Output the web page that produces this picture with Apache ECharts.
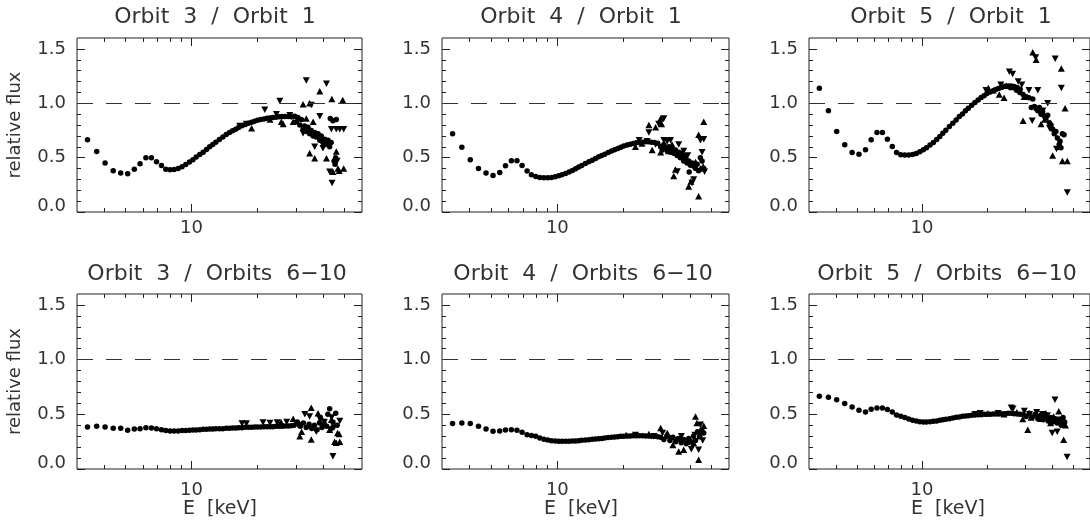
<!DOCTYPE html>
<html><head><meta charset="utf-8">
<script src="https://cdn.jsdelivr.net/npm/echarts@6/dist/echarts.min.js"></script>
<style>html,body{margin:0;padding:0;background:#fff;}#c{width:1090px;height:529px;}</style>
</head><body><div id="c"></div>
<script>
// ---- data ----
const titles = [
  'Orbit  3  /  Orbit  1', 'Orbit  4  /  Orbit  1', 'Orbit  5  /  Orbit  1',
  'Orbit  3  /  Orbits  6\u221210', 'Orbit  4  /  Orbits  6\u221210', 'Orbit  5  /  Orbits  6\u221210'
];
const yAxisName = 'relative flux';
const xAxisName = 'E  [keV]';
const xTickLabels = [10];
const xMinorTicks = [4,5,6,7,8,9,20,30,40,50];
const yTickLabels = [0, 0.5, 1.0, 1.5];
const yMinorTicks = [0.1,0.2,0.3,0.4,0.6,0.7,0.8,0.9,1.1,1.2,1.3,1.4];
const refLevel = 1.0;

// shared energy channels (keV) of the dense low-energy data
const energyGrid = [3.35,3.69,4.03,4.39,4.75,5.11,5.48,5.82,6.19,6.56,6.92,7.29,7.63,7.98,
  8.33,8.69,9.05,9.41,9.78,10.15,10.5,10.9,11.3,11.7,12.1,12.5,12.9,13.4,13.9,14.4,14.9,15.4,15.9,16.4,
  17.0,17.6,18.2,18.8,19.4,20.0,20.7,21.4,22.1,22.8,23.5,24.3,25.1,25.9,26.7,27.6,28.5];

const p1Line = [0.664,0.557,0.45,0.379,0.358,0.352,0.394,0.443,0.498,0.498,0.462,0.428,0.394,0.388,
  0.39,0.40,0.416,0.437,0.459,0.48,0.505,0.529,0.55,0.575,0.60,0.62,0.642,0.667,0.69,0.712,0.73,0.746,0.761,0.777,
  0.792,0.804,0.817,0.826,0.835,0.844,0.85,0.856,0.862,0.865,0.868,0.872,0.875,0.878,0.878,0.878,0.875];
const p2Line = [0.719,0.596,0.48,0.40,0.358,0.336,0.364,0.425,0.471,0.471,0.428,0.376,0.343,0.327,
  0.318,0.315,0.315,0.318,0.324,0.333,0.343,0.355,0.367,0.382,0.398,0.413,0.428,0.446,0.462,0.477,0.492,0.508,0.52,0.532,
  0.547,0.56,0.572,0.584,0.596,0.606,0.615,0.624,0.63,0.636,0.639,0.642,0.645,0.645,0.642,0.639,0.633];
const p3Line = [1.138,0.93,0.74,0.618,0.547,0.532,0.572,0.664,0.731,0.731,0.67,0.602,0.547,0.526,
  0.523,0.523,0.529,0.538,0.554,0.572,0.59,0.615,0.639,0.667,0.694,0.725,0.752,0.786,0.817,0.847,0.878,0.902,0.93,0.954,
  0.982,1.006,1.031,1.052,1.07,1.089,1.104,1.116,1.128,1.138,1.147,1.156,1.159,1.159,1.153,1.144,1.128];
const p4Line = [0.384,0.39,0.384,0.372,0.372,0.354,0.366,0.369,0.378,0.375,0.369,0.36,0.351,0.348,
  0.348,0.348,0.351,0.351,0.354,0.357,0.357,0.36,0.363,0.363,0.366,0.366,0.369,0.369,0.369,0.372,0.372,0.375,0.375,0.378,
  0.378,0.381,0.381,0.381,0.384,0.384,0.384,0.387,0.387,0.387,0.387,0.39,0.39,0.39,0.393,0.393,0.396];
const p5Line = [0.415,0.42,0.415,0.39,0.366,0.345,0.348,0.357,0.36,0.354,0.335,0.314,0.306,0.299,
  0.284,0.271,0.265,0.259,0.256,0.253,0.253,0.253,0.253,0.256,0.256,0.259,0.262,0.265,0.268,0.271,0.274,0.277,0.28,0.284,
  0.287,0.29,0.293,0.296,0.299,0.299,0.302,0.302,0.305,0.305,0.305,0.305,0.302,0.302,0.299,0.299,0.296];
const p6Line = [0.665,0.655,0.634,0.598,0.567,0.537,0.521,0.546,0.558,0.558,0.543,0.521,0.494,0.482,
  0.47,0.457,0.445,0.439,0.433,0.43,0.43,0.433,0.436,0.439,0.445,0.451,0.454,0.46,0.466,0.473,0.476,0.482,0.485,0.488,
  0.491,0.494,0.497,0.497,0.50,0.50,0.50,0.503,0.503,0.503,0.506,0.506,0.509,0.509,0.506,0.503,0.50];

// high-energy circles [E, ratio]
const p1Dots = [[29.6,0.88],[30.1,0.83],[30.6,0.87],[31.2,0.80],[31.7,0.85],[32.3,0.76],[32.8,0.79],[33.4,0.74],[34.0,0.78],[34.6,0.72],[35.2,0.75],[35.9,0.70],[36.5,0.73],[37.1,0.69],[37.8,0.72],[38.5,0.66],[39.1,0.70],[39.8,0.64],[40.5,0.67],[41.3,0.62],[42.0,0.66],[42.7,0.60],[43.4,0.64],[44.2,0.84],[44.8,0.47],[45.5,0.50],[45.8,0.85],[45.2,0.44],[43.0,0.86]];
const p2Dots = [[29.4,0.60],[29.9,0.57],[30.4,0.62],[30.9,0.59],[31.5,0.56],[32.0,0.60],[32.6,0.55],[33.1,0.58],[33.7,0.54],[34.3,0.57],[34.9,0.52],[35.5,0.55],[36.1,0.50],[36.8,0.53],[37.4,0.47],[38.1,0.50],[38.7,0.45],[39.4,0.47],[40.1,0.43],[40.8,0.45],[41.5,0.42],[39.6,0.367],[42.3,0.40],[43.0,0.44],[43.7,0.38],[44.5,0.50],[45.3,0.47],[46.1,0.40]];
const p3Dots = [[27.4,1.12],[28.4,1.10],[29.4,1.08],[30.4,1.06],[31.3,1.05],[32.1,0.96],[32.6,1.04],[33.2,0.97],[33.8,0.95],[34.4,0.93],[35.0,0.96],[35.6,0.90],[36.2,0.92],[36.9,0.88],[37.5,0.86],[38.2,0.89],[38.9,0.82],[39.6,0.80],[40.3,0.76],[41.0,0.72],[41.7,0.74],[42.4,0.68],[43.2,0.62],[44.0,0.59],[44.7,0.72],[45.5,0.71],[43.6,0.65]];
const p4Dots = [[29.4,0.40],[30.4,0.43],[31.4,0.39],[32.4,0.42],[33.4,0.38],[34.4,0.41],[35.4,0.37],[36.4,0.40],[37.4,0.36],[38.4,0.42],[39.4,0.38],[40.4,0.41],[41.4,0.39],[41.9,0.50],[42.7,0.55],[43.4,0.37],[44.2,0.43],[45.5,0.51],[46.2,0.40]];
const p5Dots = [[29.4,0.29],[30.4,0.27],[31.4,0.30],[32.4,0.26],[33.4,0.29],[34.4,0.25],[35.4,0.28],[36.4,0.24],[37.4,0.27],[38.4,0.23],[39.4,0.28],[40.4,0.25],[41.4,0.30],[42.3,0.26],[43.2,0.34],[44.2,0.30],[45.2,0.36],[46.1,0.33]];
const p6Dots = [[29.4,0.50],[30.4,0.48],[31.4,0.51],[32.4,0.47],[33.4,0.50],[34.4,0.46],[35.4,0.49],[36.4,0.45],[37.4,0.48],[38.4,0.44],[39.4,0.47],[40.4,0.43],[41.4,0.46],[42.3,0.42],[43.2,0.45],[44.2,0.40],[45.0,0.47],[45.8,0.43]];

// up-pointing triangles [E, ratio]
const p1Up = [[18.8,0.77],[22.8,0.85],[25.7,0.83],[26.2,0.81],[29.1,0.83],[32.3,0.99],[34.6,1.0],[33.4,0.86],[35.9,0.83],[38.5,1.11],[43.7,1.04],[34.6,0.54],[36.5,0.495],[41.3,0.495],[45.8,0.556],[45.0,0.495],[44.2,0.37],[46.6,0.40],[47.2,0.38],[49.0,1.03],[49.5,0.40]];
const p2Up = [[22.6,0.60],[24.2,0.63],[26.0,0.80],[27.9,0.78],[29.4,0.86],[29.7,0.81],[26.9,0.57],[29.4,0.55],[32.0,0.56],[33.1,0.62],[34.3,0.39],[33.7,0.33],[36.8,0.55],[38.1,0.51],[39.4,0.235],[40.3,0.28],[43.7,0.71],[46.1,0.83],[43.7,0.144],[44.5,0.40],[45.8,0.42],[42.3,0.46]];
const p3Up = [[20.3,1.14],[21.4,1.12],[22.8,1.08],[24.0,1.05],[24.6,1.16],[26.0,1.15],[29.7,1.06],[29.4,0.84],[32.6,1.47],[33.8,1.40],[35.6,0.81],[37.0,0.85],[44.2,1.32],[46.0,0.954],[40.3,0.52],[44.7,0.47],[47.1,0.47],[42.8,0.60]];
const p4Up = [[25.6,0.43],[29.1,0.46],[31.2,0.30],[31.8,0.34],[34.6,0.40],[35.2,0.56],[35.2,0.27],[37.8,0.51],[39.1,0.47],[42.7,0.36],[43.5,0.45],[45.0,0.25],[45.8,0.24],[46.4,0.33],[47.2,0.32],[47.5,0.25]];
const p5Up = [[20.5,0.31],[26.0,0.32],[29.4,0.375],[31.5,0.33],[33.4,0.22],[35.5,0.16],[37.4,0.177],[38.8,0.25],[41.5,0.238],[42.3,0.48],[42.9,0.42],[43.7,0.085],[44.0,0.30],[46.1,0.396],[45.3,0.34]];
const p6Up = [[20.2,0.51],[24.0,0.50],[27.5,0.52],[29.3,0.457],[30.9,0.36],[32.0,0.47],[33.7,0.50],[35.5,0.46],[37.5,0.51],[39.4,0.42],[40.7,0.48],[43.0,0.527],[44.5,0.42],[45.3,0.268],[46.2,0.40]];

// down-pointing triangles [E, ratio]
const p1Down = [[16.6,0.79],[17.8,0.81],[21.6,0.94],[24.4,0.90],[25.3,1.02],[28.1,0.89],[35.2,0.985],[33.4,1.21],[41.3,1.18],[38.5,0.88],[32.3,0.725],[36.5,0.60],[39.8,0.587],[43.5,0.76],[45.8,0.76],[47.5,0.76],[42.7,0.37],[43.8,0.266],[46.2,0.47],[49.5,0.76]];
const p2Down = [[23.5,0.66],[25.5,0.65],[26.0,0.73],[27.9,0.62],[28.8,0.81],[30.4,0.86],[30.4,0.66],[31.5,0.65],[32.6,0.66],[35.5,0.62],[35.0,0.373],[37.4,0.56],[39.0,0.52],[40.8,0.266],[44.5,0.66],[46.1,0.67],[45.3,0.55],[46.5,0.37],[41.5,0.30]];
const p3Down = [[19.8,1.12],[23.2,1.17],[25.4,1.29],[26.3,1.27],[27.9,1.20],[29.0,1.17],[31.3,1.12],[33.6,1.42],[34.4,1.12],[32.4,0.84],[38.2,1.00],[36.3,0.93],[41.4,1.41],[44.2,1.14],[39.0,0.77],[42.0,0.58],[47.1,0.18]];
const p4Down = [[17.0,0.415],[17.8,0.415],[21.2,0.425],[22.8,0.42],[24.6,0.425],[27.2,0.43],[30.7,0.40],[32.9,0.50],[34.6,0.48],[37.1,0.34],[38.5,0.46],[40.4,0.43],[44.2,0.116],[44.7,0.38],[47.5,0.44],[43.6,0.47]];
const p5Down = [[22.6,0.31],[27.4,0.30],[30.0,0.33],[32.6,0.28],[34.3,0.26],[36.5,0.30],[40.5,0.18],[42.0,0.31],[43.7,0.177],[44.5,0.405],[45.6,0.26]];
const p6Down = [[17.6,0.50],[18.6,0.51],[22.5,0.51],[25.9,0.56],[26.4,0.55],[29.8,0.53],[31.5,0.50],[34.0,0.52],[36.1,0.50],[38.1,0.49],[38.7,0.44],[40.1,0.33],[41.3,0.634],[42.3,0.34],[43.8,0.45],[47.0,0.11]];

// ---- layout / styling ----
const panels = [
  {line:p1Line, dots:p1Dots, up:p1Up, down:p1Down},
  {line:p2Line, dots:p2Dots, up:p2Up, down:p2Down},
  {line:p3Line, dots:p3Dots, up:p3Up, down:p3Down},
  {line:p4Line, dots:p4Dots, up:p4Up, down:p4Down},
  {line:p5Line, dots:p5Dots, up:p5Up, down:p5Down},
  {line:p6Line, dots:p6Dots, up:p6Up, down:p6Down}
];
const boxes = [
  {left:77, top:38, width:285, height:174, tx:215, ty:17, ex:220},
  {left:442, top:38, width:287, height:174, tx:581, ty:17, ex:581},
  {left:809, top:38, width:286, height:174, tx:951, ty:17, ex:948},
  {left:77, top:294, width:285, height:175, tx:217, ty:274, ex:220},
  {left:442, top:294, width:287, height:175, tx:583, ty:274, ex:581},
  {left:809, top:294, width:286, height:175, tx:947, ty:274, ex:948}
];
const ink = '#222';
const txt = '#333';
const fam = '"DejaVu Sans", sans-serif';

const grid = [], xAxis = [], yAxis = [], series = [], graphic = [];
panels.forEach((p, i) => {
  const b = boxes[i];
  grid.push({left:b.left, top:b.top, width:b.width, height:b.height, show:true,
    borderColor:ink, borderWidth:1, backgroundColor:'transparent'});
  const xb = {type:'log', logBase:10, min:3, max:60, gridIndex:i,
    axisLine:{show:false, onZero:false}, splitLine:{show:false}};
  const xi = xAxis.length;
  const tickMaj = (vals) => ({show:true, inside:true, length:8, customValues:vals, lineStyle:{color:ink, width:1}});
  const tickMin = (vals) => ({show:true, inside:true, length:4, customValues:vals, lineStyle:{color:ink, width:1}});
  xAxis.push(Object.assign({}, xb, {position:'bottom', axisTick:tickMaj(xTickLabels),
    axisLabel:{show:true, customValues:xTickLabels, margin: i < 3 ? 7 : 12, fontSize:18, fontFamily:fam, color:txt,
      formatter: v => String(Math.round(v))}}));
  xAxis.push(Object.assign({}, xb, {position:'bottom', axisTick:tickMin(xMinorTicks), axisLabel:{show:false}}));
  xAxis.push(Object.assign({}, xb, {position:'top', axisTick:tickMaj(xTickLabels), axisLabel:{show:false}}));
  xAxis.push(Object.assign({}, xb, {position:'top', axisTick:tickMin(xMinorTicks), axisLabel:{show:false}}));

  const yb = {type:'value', min:0, max:1.6, gridIndex:i,
    axisLine:{show:false, onZero:false}, splitLine:{show:false}};
  const yi = yAxis.length;
  yAxis.push(Object.assign({}, yb, {position:'left', axisTick:tickMaj(yTickLabels),
    axisLabel:{show:true, customValues:yTickLabels, margin:11, fontSize:18, fontFamily:fam, color:txt,
      formatter: v => (Math.abs(v) < 1e-9 ? '{z|0.0}' : v.toFixed(1)),
      rich:{z:{fontSize:18, fontFamily:fam, color:txt, padding:[0,0,11,0]}}}}));
  yAxis.push(Object.assign({}, yb, {position:'left', axisTick:tickMin(yMinorTicks), axisLabel:{show:false}}));
  yAxis.push(Object.assign({}, yb, {position:'right', axisTick:tickMaj(yTickLabels), axisLabel:{show:false}}));
  yAxis.push(Object.assign({}, yb, {position:'right', axisTick:tickMin(yMinorTicks), axisLabel:{show:false}}));

  const circleData = energyGrid.map((e, k) => [e, p.line[k]]).concat(p.dots);
  const mk = {color:'#000', opacity:1};
  series.push({type:'scatter', xAxisIndex:xi, yAxisIndex:yi, data:circleData, symbol:'circle', symbolSize:5.5,
    itemStyle:mk, silent:true, z:3,
    markLine:{silent:true, symbol:['none','none'], label:{show:false}, animation:false,
      lineStyle:{type:[16,13], color:'#333', width:1, opacity:1}, data:[{yAxis:refLevel}]}});
  series.push({type:'scatter', xAxisIndex:xi, yAxisIndex:yi, data:p.up, symbol:'triangle', symbolSize:[7,6.5],
    itemStyle:mk, silent:true, z:3});
  series.push({type:'scatter', xAxisIndex:xi, yAxisIndex:yi, data:p.down, symbol:'triangle', symbolRotate:180, symbolSize:[7,6.5],
    itemStyle:mk, silent:true, z:3});

  graphic.push({type:'text', x:b.tx, y:b.ty, silent:true,
    style:{text:titles[i], font:'22px ' + fam, fill:txt, align:'center', verticalAlign:'middle'}});
  if (i % 3 === 0) {
    graphic.push({type:'text', x:15, y:b.top + b.height / 2, rotation:Math.PI / 2, silent:true,
      style:{text:yAxisName, font:'18px ' + fam, fill:txt, align:'center', verticalAlign:'middle'}});
  }
  if (i >= 3) {
    graphic.push({type:'text', x:b.ex, y:509, silent:true,
      style:{text:xAxisName, font:'19px ' + fam, fill:txt, align:'center', verticalAlign:'middle'}});
  }
});

const chart = echarts.init(document.getElementById('c'), null, {renderer:'canvas'});
chart.setOption({animation:false, backgroundColor:'#fff', grid, xAxis, yAxis, series, graphic});
</script>
</body></html>
